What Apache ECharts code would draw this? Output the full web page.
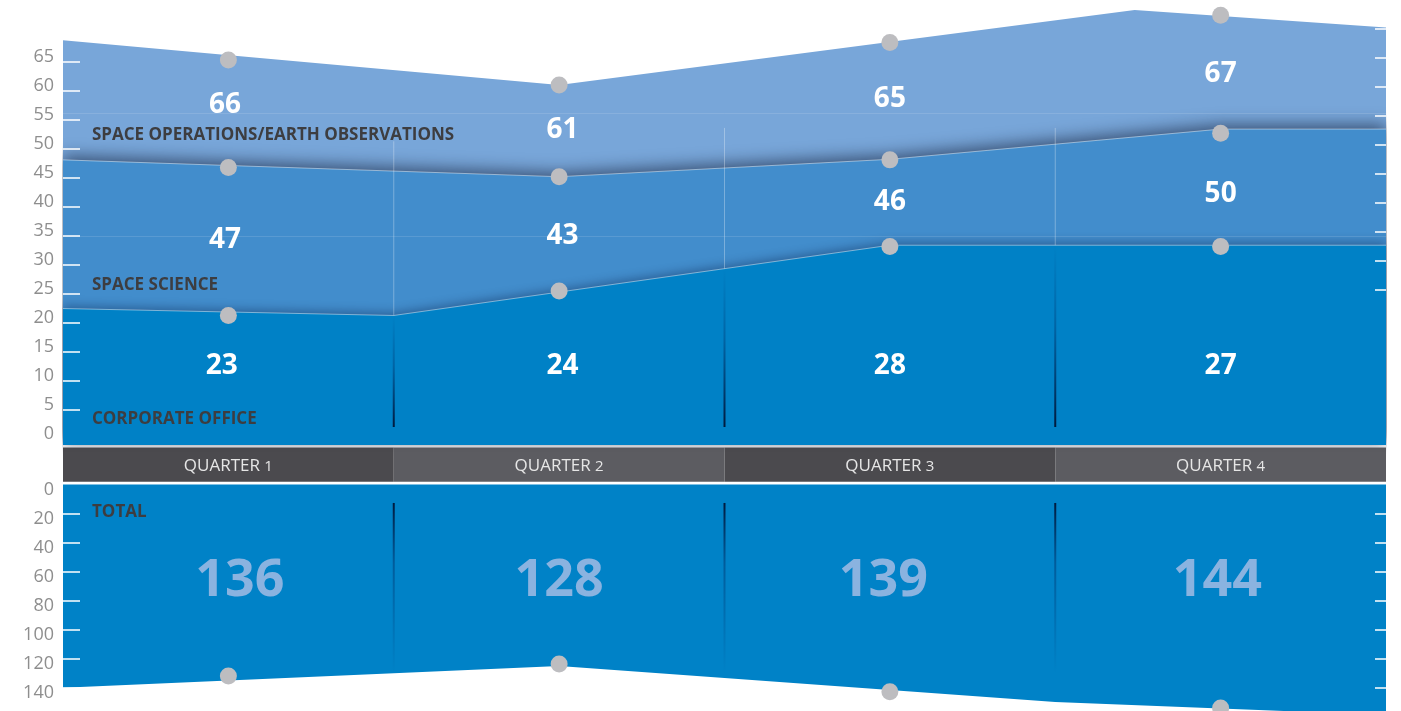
<!DOCTYPE html>
<html>
<head>
<meta charset="utf-8">
<script src="https://cdn.jsdelivr.net/npm/echarts@6/dist/echarts.min.js"></script>
<style>
  html, body { margin: 0; padding: 0; background: #ffffff; }
  #chart { width: 1401px; height: 711px; }
</style>
</head>
<body>
<div id="chart"></div>
<script>
// ---------------- DATA ----------------
const quarters = ['QUARTER 1', 'QUARTER 2', 'QUARTER 3', 'QUARTER 4'];
const corporateOffice = [23, 24, 28, 27];
const spaceScience = [47, 43, 46, 50];
const spaceOperations = [66, 61, 65, 67];
const totals = [136, 128, 139, 144];

// outline vertices of the drawn bands: [position in quarters from left edge, axis value]
const operationsEdge = [[0, 68.7], [1.5, 61.0], [3.24, 73.9], [4, 70.9]];
const scienceEdge = [[0, 48.1], [1.5, 45.2], [2.5, 48.2], [3.5, 53.4], [4, 53.4]];
const corporateEdge = [[0, 22.5], [1, 21.3], [2.5, 33.4], [4, 33.4]];
const totalEdge = [[0, 139.8], [1.5, 124.9], [3, 149.6], [4, 158.6]];

// marker (dot) values per quarter
const operationsDots = [65.3, 61.0, 68.3, 73.0];
const scienceDots = [46.8, 45.2, 48.1, 52.7];
const corporateDots = [21.3, 25.5, 33.2, 33.2];
const totalDots = [131.7, 123.5, 142.5, 153.8];

// tick labels
const topTickLabels = [0, 5, 10, 15, 20, 25, 30, 35, 40, 45, 50, 55, 60, 65];
const topTickMarks = [5, 10, 15, 20, 25, 30, 35, 40, 45, 50, 55, 60, 65];
const topRightTickMarks = [25.7, 30.7, 35.7, 40.7, 45.7, 50.7, 55.7, 60.7, 65.7, 70.7];
const bottomTickLabels = [0, 20, 40, 60, 80, 100, 120, 140];
const bottomTickMarks = [20, 40, 60, 80, 100, 120, 140];
const dividers = [1, 2, 3];

// ---------------- LAYOUT (label anchors, not data) ----------------
const LAYOUT = {
  opsLabelY: [57.9, 53.6, 59.0, 63.3],
  sciLabelY: [34.7, 35.5, 41.2, 42.7],
  corpLabelY: [13.1, 13.1, 13.1, 13.1],
  totalLabelY: [64.5, 64.5, 64.5, 64.5],
  valueLabelX: [0.49, 1.51, 2.5, 3.5],
  corpLabelX: [0.48, 1.51, 2.5, 3.5],
  totalLabelX: [0.535, 1.5, 2.48, 3.49],
  dividerTop: [51.3, 53.6, 53.6],
  faintLines: [56.2, 35.0],
  darkTopEnd: 2.1,
  darkBottomStart: 12.7,
  darkBottomEnd: 130
};

const FONT = '"Open Sans", "Noto Sans", sans-serif';
const C = {
  ops: '#78a6d9', sci: '#428dcc', corp: '#0081c6', total: '#0082c7',
  dot: '#bdbdc0', axis: '#8e8e8e', dark: '#3d3d40', bandA: '#4b4a4e', bandB: '#5c5c61',
  totalText: '#8ab3e0'
};

function interp(edge, x) {
  for (let i = 0; i < edge.length - 1; i++) {
    const a = edge[i], b = edge[i + 1];
    if (x >= a[0] && x <= b[0]) return a[1] + (b[1] - a[1]) * (x - a[0]) / (b[0] - a[0]);
  }
  return edge[edge.length - 1][1];
}

const chart = echarts.init(document.getElementById('chart'), null, { renderer: 'canvas' });

const GL = 63, GW = 1323;
const TOP_MIN = -1, TOP_MAX = 75;
const BOT_TOP = 484.5, BOT_H = 226.5;
const BOT_MAX = BOT_H / 1.4536;

function dotSeries(vals, xi, yi) {
  return {
    type: 'scatter', xAxisIndex: xi, yAxisIndex: yi, z: 20, silent: true, clip: false,
    symbolSize: 17, itemStyle: { color: C.dot, opacity: 1 },
    data: vals.map((v, i) => [i + 0.5, v])
  };
}
function labelSeries(vals, ys, xs, xi, yi, style) {
  return {
    type: 'scatter', xAxisIndex: xi, yAxisIndex: yi, z: 25, silent: true,
    symbol: 'circle', symbolSize: 1, itemStyle: { color: 'rgba(0,0,0,0)' },
    label: Object.assign({ show: true, position: 'inside', offset: [0, 2.5], opacity: 1,
      textBorderWidth: 0, textShadowBlur: 0, formatter: p => String(p.value[2]) }, style),
    data: vals.map((v, i) => [xs[i], ys[i], v])
  };
}
const edgeLine = { color: 'rgba(255,255,255,0.45)', width: 1 };

const option = {
  animation: false,
  backgroundColor: '#ffffff',
  grid: [
    { left: GL, width: GW, top: 3.65, height: 441.35 },
    { left: GL, width: GW, top: 447.5, height: 34.2 },
    { left: GL, width: GW, top: BOT_TOP, height: BOT_H }
  ],
  xAxis: [
    { gridIndex: 0, type: 'value', min: 0, max: 4, axisLine: { show: false }, splitLine: { show: false },
      axisLabel: { show: false },
      axisTick: { show: true, inside: true, length: 14, customValues: dividers, lineStyle: { color: '#ffffff', width: 2.5 } } },
    { gridIndex: 1, type: 'category', data: quarters, show: false },
    { gridIndex: 2, type: 'value', min: 0, max: 4, position: 'top', axisLine: { show: false }, splitLine: { show: false },
      axisLabel: { show: false },
      axisTick: { show: true, inside: true, length: 13, customValues: dividers, lineStyle: { color: '#ffffff', width: 2.5 } } }
  ],
  yAxis: [
    { gridIndex: 0, type: 'value', min: TOP_MIN, max: TOP_MAX, position: 'left', z: 30,
      axisLine: { show: false }, splitLine: { show: false },
      axisTick: { show: true, inside: true, length: 17, customValues: topTickMarks, lineStyle: { color: '#ffffff', width: 1.5 } },
      axisLabel: { show: true, customValues: topTickLabels, margin: 9, color: C.axis, fontSize: 18, fontFamily: FONT,
        verticalAlign: 'bottom', lineHeight: 10 } },
    { gridIndex: 0, type: 'value', min: TOP_MIN, max: TOP_MAX, position: 'right', z: 30,
      axisLine: { show: false }, splitLine: { show: false }, axisLabel: { show: false },
      axisTick: { show: true, inside: true, length: 11, customValues: topRightTickMarks, lineStyle: { color: '#ffffff', width: 1.5 } } },
    { gridIndex: 1, type: 'value', min: 0, max: 1, show: false },
    { gridIndex: 2, type: 'value', min: 0, max: BOT_MAX, inverse: true, position: 'left', z: 30,
      axisLine: { show: false }, splitLine: { show: false },
      axisTick: { show: true, inside: true, length: 17, customValues: bottomTickMarks, lineStyle: { color: '#ffffff', width: 1.5 } },
      axisLabel: { show: true, customValues: bottomTickLabels, margin: 9, color: C.axis, fontSize: 18, fontFamily: FONT,
        verticalAlign: 'top', lineHeight: 10 } },
    { gridIndex: 2, type: 'value', min: 0, max: BOT_MAX, inverse: true, position: 'right', z: 30,
      axisLine: { show: false }, splitLine: { show: false }, axisLabel: { show: false },
      axisTick: { show: true, inside: true, length: 11, customValues: bottomTickMarks, lineStyle: { color: '#ffffff', width: 1.5 } } }
  ],
  series: [
    // top chart bands
    { type: 'line', name: 'Space Operations/Earth Observations', xAxisIndex: 0, yAxisIndex: 0, z: 1, clip: false, silent: true,
      data: operationsEdge, symbol: 'none', lineStyle: { width: 0 },
      areaStyle: { color: C.ops, opacity: 1, origin: 'start' } },
    { type: 'line', name: 'Space Science', xAxisIndex: 0, yAxisIndex: 0, z: 2, clip: false, silent: true,
      data: scienceEdge, symbol: 'none', lineStyle: edgeLine,
      areaStyle: { color: C.sci, opacity: 1, origin: 'start', shadowBlur: 16, shadowColor: 'rgba(15,25,50,0.6)', shadowOffsetY: -4 } },
    { type: 'line', name: 'Corporate Office', xAxisIndex: 0, yAxisIndex: 0, z: 3, clip: false, silent: true,
      data: corporateEdge, symbol: 'none', lineStyle: edgeLine,
      areaStyle: { color: C.corp, opacity: 1, origin: 'start', shadowBlur: 10, shadowColor: 'rgba(0,20,60,0.35)', shadowOffsetY: -3 },
      markLine: { silent: true, symbol: 'none', label: { show: false },
        lineStyle: { color: 'rgba(255,255,255,0.12)', width: 1, type: 'solid' },
        data: LAYOUT.faintLines.map(v => ({ yAxis: v })) } },
    // light dividers in top chart
    { type: 'custom', xAxisIndex: 0, yAxisIndex: 0, z: 4, silent: true, clip: false,
      data: dividers.map((d, i) => [d, LAYOUT.dividerTop[i]]),
      renderItem: (params, api) => {
        const x = api.value(0);
        const a = api.coord([x, api.value(1)]);
        const b = api.coord([x, interp(corporateEdge, x)]);
        return { type: 'line', shape: { x1: a[0], y1: a[1], x2: b[0], y2: b[1] },
          style: { stroke: 'rgba(255,255,255,0.3)', lineWidth: 1 } };
      } },
    // dark gradient dividers in top chart
    { type: 'custom', xAxisIndex: 0, yAxisIndex: 0, z: 5, silent: true, clip: false,
      data: dividers.map(d => [d, LAYOUT.darkTopEnd]),
      renderItem: (params, api) => {
        const x = api.value(0);
        const a = api.coord([x, interp(corporateEdge, x)]);
        const b = api.coord([x, api.value(1)]);
        return { type: 'rect', shape: { x: a[0] - 1, y: a[1], width: 2, height: b[1] - a[1] },
          style: { fill: new echarts.graphic.LinearGradient(0, 0, 0, 1, [
            { offset: 0, color: 'rgba(0,50,110,0)' },
            { offset: 0.45, color: 'rgba(0,45,100,0.35)' },
            { offset: 1, color: 'rgba(0,25,60,1)' }]) } };
      } },
    dotSeries(operationsDots, 0, 0),
    dotSeries(scienceDots, 0, 0),
    dotSeries(corporateDots, 0, 0),
    labelSeries(spaceOperations, LAYOUT.opsLabelY, LAYOUT.valueLabelX, 0, 0, { color: '#ffffff', fontSize: 28, fontWeight: 'bold', fontFamily: FONT }),
    labelSeries(spaceScience, LAYOUT.sciLabelY, LAYOUT.valueLabelX, 0, 0, { color: '#ffffff', fontSize: 28, fontWeight: 'bold', fontFamily: FONT }),
    labelSeries(corporateOffice, LAYOUT.corpLabelY, LAYOUT.corpLabelX, 0, 0, { color: '#ffffff', fontSize: 28, fontWeight: 'bold', fontFamily: FONT }),
    // quarter band
    { type: 'bar', xAxisIndex: 1, yAxisIndex: 2, barWidth: '100%', barCategoryGap: '0%', silent: true, z: 2,
      data: quarters.map((q, i) => ({ value: 1, itemStyle: { color: i % 2 === 0 ? C.bandA : C.bandB } })),
      label: { show: true, position: 'inside', offset: [0, 2], color: '#e6e6e6', fontFamily: FONT, fontSize: 17,
        formatter: p => { const parts = p.name.split(' '); return '{a|' + parts[0] + ' }{d|' + parts[1] + '}'; },
        rich: { a: { fontSize: 17, color: '#e6e6e6', fontFamily: FONT }, d: { fontSize: 15, color: '#e6e6e6', fontFamily: FONT } } } },
    // bottom chart
    { type: 'line', name: 'Total', xAxisIndex: 2, yAxisIndex: 3, z: 1, silent: true, clip: false,
      data: totalEdge, symbol: 'none', lineStyle: { width: 0 },
      areaStyle: { color: C.total, opacity: 1, origin: 'start' } },
    { type: 'custom', xAxisIndex: 2, yAxisIndex: 3, z: 5, silent: true, clip: false,
      data: dividers.map(d => [d, LAYOUT.darkBottomStart]),
      renderItem: (params, api) => {
        const x = api.value(0);
        const a = api.coord([x, api.value(1)]);
        const b = api.coord([x, LAYOUT.darkBottomEnd]);
        return { type: 'rect', shape: { x: a[0] - 1, y: a[1], width: 2, height: b[1] - a[1] },
          style: { fill: new echarts.graphic.LinearGradient(0, 0, 0, 1, [
            { offset: 0, color: 'rgba(0,25,60,1)' },
            { offset: 0.35, color: 'rgba(0,45,100,0.45)' },
            { offset: 1, color: 'rgba(0,50,110,0)' }]) } };
      } },
    dotSeries(totalDots, 2, 3),
    labelSeries(totals, LAYOUT.totalLabelY, LAYOUT.totalLabelX, 2, 3, { color: C.totalText, fontSize: 52, fontWeight: 'bold', fontFamily: FONT })
  ],
  graphic: [
    { type: 'text', x: 92, y: 135, z: 50, silent: true, style: { text: 'SPACE OPERATIONS/EARTH OBSERVATIONS', fill: C.dark, font: 'bold 17px ' + FONT, verticalAlign: 'middle' } },
    { type: 'text', x: 92, y: 285, z: 50, silent: true, style: { text: 'SPACE SCIENCE', fill: C.dark, font: 'bold 17px ' + FONT, verticalAlign: 'middle' } },
    { type: 'text', x: 92, y: 419.5, z: 50, silent: true, style: { text: 'CORPORATE OFFICE', fill: C.dark, font: 'bold 17px ' + FONT, verticalAlign: 'middle' } },
    { type: 'text', x: 92, y: 512, z: 50, silent: true, style: { text: 'TOTAL', fill: C.dark, font: 'bold 17px ' + FONT, verticalAlign: 'middle' } }
  ]
};
chart.setOption(option);
</script>
</body>
</html>
